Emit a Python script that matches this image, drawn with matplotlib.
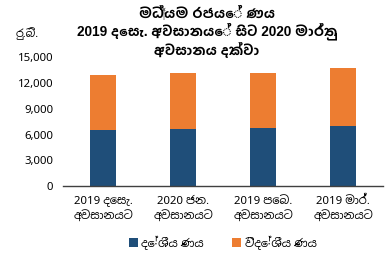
import matplotlib
matplotlib.use("Agg")
import matplotlib.pyplot as plt
import numpy as np

plt.rcParams['font.family'] = ['Noto Sans', 'Noto Sans Sinhala', 'DejaVu Sans']

categories = ["2019 දෙසැ.\nඅවසානයට", "2020 ජන.\nඅවසානයට", "2019 පෙබ.\nඅවසානයට", "2019 මාර්.\nඅවසානයට"]
domestic = [6510, 6630, 6700, 6980]
foreign = [6430, 6470, 6400, 6700]
series_names = ["දේශීය ණය", "විදේශීය ණය"]
yticks = [0, 3000, 6000, 9000, 12000, 15000]
title = "මධ්‍යම රජයේ ණය\n2019 දෙසැ. අවසානයේ සිට 2020 මාර්තු\nඅවසානය දක්වා"
ylabel = "රු.බි."

fig = plt.figure(figsize=(3.87, 2.56), dpi=100)
ax = fig.add_axes([0.163, 0.273, 0.827, 0.504])
x = np.arange(len(categories))
ax.bar(x, domestic, width=0.33, color="#1F4E79", label=series_names[0])
ax.bar(x, foreign, width=0.33, bottom=domestic, color="#ED7D31", label=series_names[1])
ax.set_xlim(-0.5, len(categories) - 0.5)
ax.set_ylim(0, 15000)
ax.set_yticks(yticks)
ax.set_yticklabels([f"{v:,}" for v in yticks], fontsize=8.2)
ax.set_xticks(x)
ax.set_xticklabels(categories, fontsize=8.2, linespacing=1.35)
for s in ["top", "right", "left"]:
    ax.spines[s].set_visible(False)
ax.spines["bottom"].set_color("#404040")
ax.spines["bottom"].set_linewidth(1.0)
ax.tick_params(axis="y", length=0, pad=7)
ax.tick_params(axis="x", length=0, pad=7)
fig.text(0.535, 0.975, title, ha="center", va="top", fontsize=9.8, fontweight="bold", linespacing=1.1,
         family=['Liberation Sans', 'Hind Colombo', 'Noto Sans Sinhala', 'DejaVu Sans'])
fig.text(0.04, 0.87, ylabel, ha="left", va="center", fontsize=8)
fig.legend(loc="lower center", bbox_to_anchor=(0.575, -0.015), ncol=2, frameon=False, fontsize=8.2,
           handlelength=0.8, handleheight=0.8, handletextpad=0.3, columnspacing=2.5)
fig.savefig("out.png", dpi=100)
